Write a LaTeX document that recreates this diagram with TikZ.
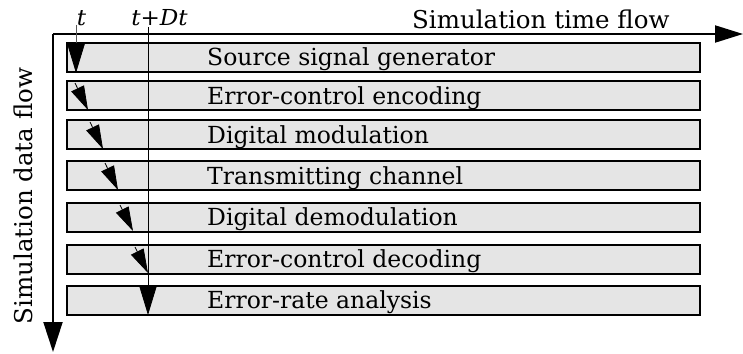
\documentclass[tikz,border=0pt]{standalone}
\usepackage{fontspec}
\setmainfont{DejaVu Serif}
\usetikzlibrary{arrows.meta}

\definecolor{boxfill}{HTML}{E5E5E5}

\tikzset{
  stage/.style={draw=black, line width=2pt, fill=boxfill,
    minimum width=633pt, minimum height=29pt, inner sep=0pt},
  stagetext/.style={anchor=base west, inner sep=0pt, font=\fontsize{23.5}{26}\selectfont},
  axis/.style={line width=2pt},
  bighead/.style={-{Triangle[length=30pt,width=18pt,color=black]}},
  smallhead/.style={-{Triangle[length=24pt,width=14pt]}},
  timemark/.style={line width=0.8pt},
  axislabel/.style={inner sep=0pt, font=\fontsize{24.5}{27}\selectfont},
  timelabel/.style={inner sep=0pt, anchor=base, xscale=1.05,
    font=\fontsize{22}{24}\selectfont\itshape},
}

\begin{document}
\begin{tikzpicture}[x=1pt, y=-1pt]
\useasboundingbox (0,0) rectangle (743,353);

% processing stages, top to bottom
\foreach \n/\cy/\txt in {
  1/57.5/Source signal generator,
  2/95.5/Error-control encoding,
  3/134.5/Digital modulation,
  4/175.5/Transmitting channel,
  5/217/Digital demodulation,
  6/259/Error-control decoding,
  7/300/Error-rate analysis}{
  \node[stage] (s\n) at (383.5,\cy) {};
  \node[stagetext] (l\n) at (207,\cy+8.5) {\txt};
}

% axes
\coordinate (origin) at (53,34);
\coordinate (xend) at (743,34);
\coordinate (yend) at (53,352);
\draw[axis, -{Triangle[length=28pt,width=17pt]}] (origin) -- (xend);
\draw[axis, -{Triangle[length=30pt,width=19pt]}] (origin) -- (yend);

\node[axislabel, anchor=base west] (tflow) at (412,29) {Simulation time flow};
\node[axislabel, anchor=base, rotate=90] (dflow) at (32,196) {Simulation data flow};

% time instants
\node[timelabel] (t0) at (81.5,26) {t};
\node[timelabel] (t1) at (159.5,26) {t+Dt};

\coordinate (t0top) at (76,25);
\coordinate (t0tip) at (76,73);
\coordinate (t1top) at (148,27);
\coordinate (t1tip) at (148,315);
\draw[timemark, draw=black!65, bighead] (t0top) -- (t0tip);
\draw[timemark, bighead] (t1top) -- (t1tip);

% data moving through the stages between t and t+Dt
\foreach \k/\tx/\top/\bot in {2/88/80/111, 3/103/119/150, 4/118/160/191, 5/133/202/232, 6/148/244/274}{
  \coordinate (a\k) at (\tx-13,\top+3);
  \coordinate (b\k) at (\tx,\bot-1);
  \draw[timemark, smallhead] (a\k) -- (b\k);
}
\end{tikzpicture}
\end{document}
